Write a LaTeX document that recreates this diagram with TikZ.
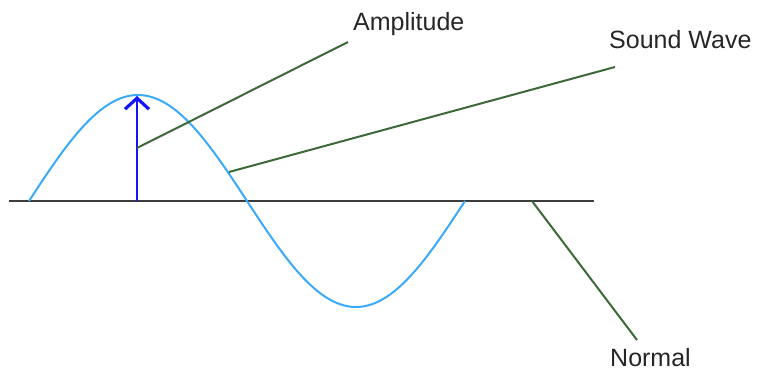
\documentclass[tikz,border=0pt]{standalone}
\usepackage{fontspec}
\setmainfont{Liberation Sans}
\usetikzlibrary{positioning,calc,arrows.meta}
\definecolor{wavecol}{RGB}{60,170,250}
\definecolor{leadcol}{RGB}{60,105,55}
\definecolor{axiscol}{RGB}{60,60,60}
\definecolor{ampcol}{RGB}{20,20,250}
\tikzset{lbl/.style={anchor=base west,inner sep=0pt,font=\fontsize{25}{28}\selectfont,text=black!85}}
\tikzset{leader/.style={draw=leadcol,line width=2pt}}
\tikzset{>={Straight Barb[length=11pt,width=24pt,line width=3.2pt]}}

\begin{document}
\begin{tikzpicture}[x=1pt,y=-1pt]
	\useasboundingbox (0,0) rectangle (760,370);
		% axis and wave
		\coordinate (l) at (9,201);
		\coordinate (r) at (594,201);
		\draw[axiscol,line width=2pt] (l) -- (r);
		\draw[wavecol,line width=2pt] plot[domain=0:436,samples=120] ({29+\x},{201-106*sin(\x/436*360)});
		% amplitude arrow
		\coordinate (foot) at (137,201);
		\coordinate (top) at (137,96);
		\draw[->,ampcol,line width=2pt] (foot) -- (top);
			\coordinate (a0) at (137,148);
			\coordinate (a1) at (348,42);
			\coordinate (s0) at (229,172);
			\coordinate (s1) at (615,67);
			\coordinate (n0) at (532,201);
			\coordinate (n1) at (637,340);
		\node[lbl] (amp) at (353,30) {Amplitude};
		\node[lbl] (snd) at (609,48) {Sound Wave};
		\node[lbl] (nrm) at (610,366) {Normal};
			\draw[leader]
				  (a0) -- (a1)
				  (s0) -- (s1)
				  (n0) -- (n1)
				;
	\end{tikzpicture}
\end{document}
